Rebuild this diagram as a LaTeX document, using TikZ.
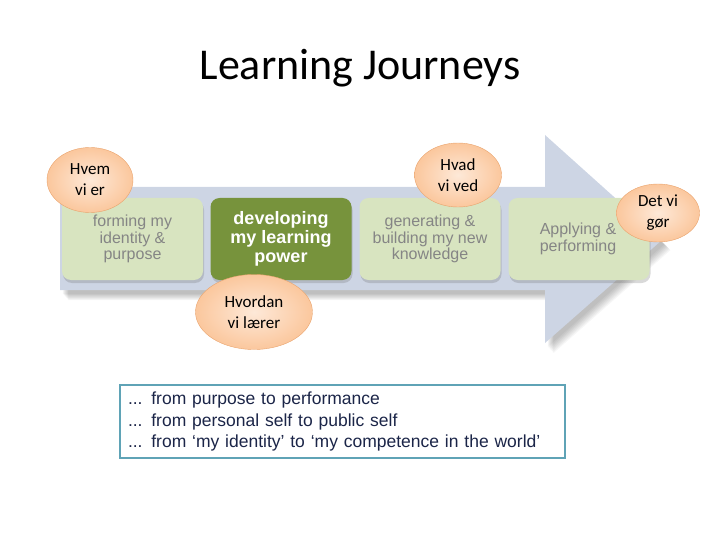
\documentclass[tikz,border=0pt]{standalone}
\usepackage{fontspec}
\setmainfont{Carlito}
\newfontfamily\arialfont{Liberation Sans}
\usepackage{xcolor}
\usetikzlibrary{arrows.meta,positioning,shapes.geometric,shadows}

\definecolor{arrowblue}{HTML}{CDD5E4}
\definecolor{palegreen}{HTML}{D8E4C0}
\definecolor{olivegreen}{HTML}{77933C}
\definecolor{stagegrey}{HTML}{858585}
\definecolor{peach}{HTML}{FBC79D}
\definecolor{peachedge}{HTML}{E9A36C}
\definecolor{tealedge}{HTML}{5FA3B6}
\definecolor{navytext}{HTML}{1B2548}

\newcommand{\arrowpath}{(60,187) -- (545,187) -- (545,135) -- (662,240) -- (545,343) -- (545,290) -- (60,290) -- cycle}

\begin{document}
\begin{tikzpicture}[x=1pt, y=-1pt,
  stage/.style={rectangle, rounded corners=9pt, fill=palegreen, minimum width=141pt, minimum height=82pt,
    align=center, text=stagegrey, font=\arialfont\fontsize{16}{16.5}\selectfont,
    drop shadow={shadow xshift=1pt, shadow yshift=-3pt, opacity=0.25, fill=black!60}},
  active/.style={stage, fill=olivegreen, text=white, font=\arialfont\bfseries\fontsize{18}{19}\selectfont},
  bubble/.style={ellipse, draw=peachedge, thin, inner color=peach!40, outer color=peach, align=center,
    inner sep=0pt, font=\fontsize{17}{21}\selectfont},
  notebox/.style={rectangle, draw=tealedge, line width=2.5pt, fill=white, align=left, text=navytext,
    font=\arialfont\fontsize{17.5}{21.5}\selectfont, minimum width=445pt, minimum height=73pt,
    inner xsep=8pt, text width=429pt}
]
\useasboundingbox (0,0) rectangle (720,540);

% Title
\node[font=\fontsize{44}{48}\selectfont] (title) at (360,68) {Learning Journeys};

% Soft shadow of the big arrow
\foreach \s in {1,...,8}
  \fill[black, opacity=0.035, shift={(2+0.8*\s,3+0.9*\s)}] \arrowpath;

% Big arrow behind the stages
\fill[arrowblue] \arrowpath;

% Stages
\node[stage] (forming) at (132.5,239) {forming my\\identity \&\\purpose};
\node[active] (developing) at (281,239) {developing\\my learning\\power};
\node[stage] (generating) at (430,239) {generating \&\\building my new\\knowledge};
\node[stage] (applying) at (579,239) {};
\node[text=stagegrey, font=\arialfont\fontsize{16}{16.5}\selectfont, align=center] (applytext) at (578,239) {Applying \&\\performing};

% Bubbles
\node[bubble, minimum width=86pt, minimum height=65pt] (hvem) at (90,180) {Hvem\\vi er};
\node[bubble, minimum width=117pt, minimum height=75pt] (hvordan) at (254,312) {Hvordan\\vi lærer};
\node[bubble, minimum width=87pt, minimum height=64pt] (hvad) at (458,175) {Hvad\\vi ved};
\node[bubble, minimum width=83pt, minimum height=58pt] (gor) at (658,213) {Det vi\\gør};

% Summary box
\node[notebox] (summary) at (342.5,421.5) {... from purpose to performance\\... from personal self to public self\\... from ‘my identity’ to ‘my competence in the world’};

\end{tikzpicture}
\end{document}
